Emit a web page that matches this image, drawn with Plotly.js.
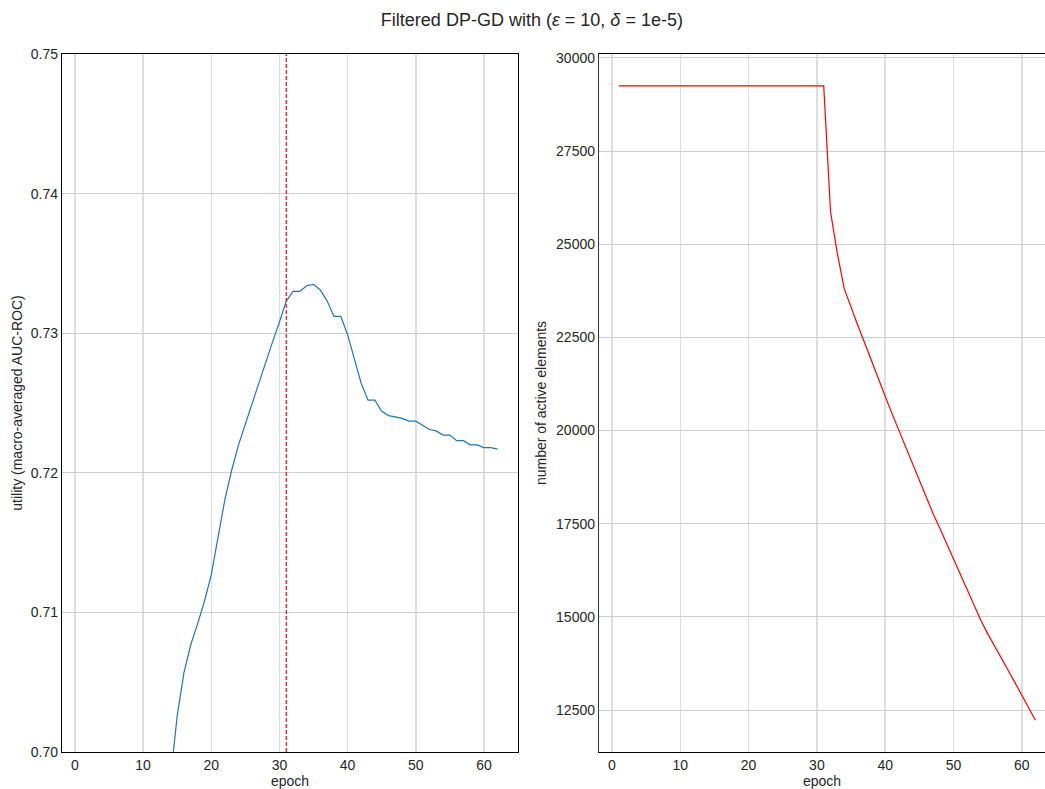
<!DOCTYPE html>
<html>
<head>
<meta charset="utf-8">
<script src="https://cdn.plot.ly/plotly-3.0.1.min.js"></script>
<style>
  html, body { margin: 0; padding: 0; background: #fff; }
  #chart { width: 1045px; height: 789px; }
</style>
</head>
<body>
<div id="chart"></div>
<script>
// ---- data ----
const utilityEpochs = [14, 15, 16, 17, 18, 19, 20, 21, 22, 23, 24, 25, 26, 27, 28, 29, 30, 31, 32, 33, 34, 35, 36, 37, 38,
  39, 40, 41, 42, 43, 44, 45, 46, 47, 48, 49, 50, 51, 52, 53, 54, 55, 56, 57, 58, 59, 60, 61, 62];
const utilityValues = [0.6980, 0.7026, 0.7057, 0.7077, 0.7092, 0.7108, 0.7127, 0.7154, 0.7181, 0.7202, 0.7220, 0.7235,
  0.7250, 0.7265, 0.7280, 0.7294, 0.7308, 0.7323, 0.7330, 0.7330, 0.7334, 0.7335, 0.7331, 0.7323, 0.7312,
  0.7312, 0.7299, 0.7281, 0.7264, 0.7252, 0.7252, 0.7244, 0.7241, 0.7240, 0.7239, 0.7237, 0.7237, 0.7234,
  0.7231, 0.7230, 0.7227, 0.7227, 0.7223, 0.7223, 0.7220, 0.7220, 0.7218, 0.7218, 0.7217];

const activeEpochs = [1, 2, 3, 4, 5, 6, 7, 8, 9, 10, 11, 12, 13, 14, 15, 16, 17, 18, 19, 20, 21, 22, 23, 24, 25, 26, 27,
  28, 29, 30, 31, 32, 33, 34, 35, 36, 37, 38, 39, 40, 41, 42, 43, 44, 45, 46, 47, 48, 49, 50, 51, 52, 53, 54,
  55, 56, 57, 58, 59, 60, 61, 62];
const activeValues = [29250, 29250, 29250, 29250, 29250, 29250, 29250, 29250, 29250, 29250, 29250, 29250, 29250, 29250,
  29250, 29250, 29250, 29250, 29250, 29250, 29250, 29250, 29250, 29250, 29250, 29250, 29250, 29250, 29250,
  29250, 29250, 25869, 24749, 23808, 23295, 22821, 22348, 21857, 21393, 20919, 20455, 20009, 19562, 19098,
  18669, 18222, 17776, 17380, 16964, 16534, 16114, 15694, 15310, 14907, 14550, 14210, 13906, 13566, 13236,
  12896, 12556, 12225];

const bestEpoch = 31;

const leftYTicks = [0.70, 0.71, 0.72, 0.73, 0.74, 0.75];
const rightYTicks = [12500, 15000, 17500, 20000, 22500, 25000, 27500, 30000];
const xTicks = [0, 10, 20, 30, 40, 50, 60];

const titleText = 'Filtered DP-GD with (<i>ε</i> = 10, <i>δ</i> = 1e-5)';
const leftYTitle = 'utility (macro-averaged AUC-ROC)';
const rightYTitle = 'number of active elements';
const xTitle = 'epoch';

// ---- chart ----
const font = 'Liberation Sans, Arial, sans-serif';
const tickFont = {family: font, size: 14, color: '#262626'};
const axTitleFont = {family: font, size: 14, color: '#262626'};

const xCommon = {
  tickmode: 'array', tickvals: xTicks,
  showgrid: true, gridcolor: '#dedede', gridwidth: 1.5,
  zeroline: false, ticks: '', tickfont: tickFont,
  showline: true, linecolor: '#000', linewidth: 1.2, mirror: true,
  title: {text: xTitle, font: axTitleFont, standoff: 6}
};

const traces = [
  {x: utilityEpochs, y: utilityValues, xaxis: 'x', yaxis: 'y', type: 'scatter', mode: 'lines',
   line: {color: '#1f77b4', width: 1.2}, hoverinfo: 'x+y'},
  {x: activeEpochs, y: activeValues, xaxis: 'x2', yaxis: 'y2', type: 'scatter', mode: 'lines',
   line: {color: '#ff0000', width: 1.2}, hoverinfo: 'x+y'}
];

const layout = {
  width: 1045, height: 789,
  paper_bgcolor: '#fff', plot_bgcolor: '#fff',
  showlegend: false,
  margin: {l: 62, r: 0, t: 54, b: 37},
  title: {text: titleText, font: {family: font, size: 18, color: '#262626'},
          x: 0.509, xref: 'container', xanchor: 'center', y: 0.975, yref: 'container', yanchor: 'middle'},
  xaxis: Object.assign({}, xCommon, {domain: [0, 0.4639], range: [-1.9, 65.0], anchor: 'y'}),
  yaxis: {domain: [0, 1], range: [0.70, 0.75], anchor: 'x',
    tickmode: 'array', tickvals: leftYTicks, tickformat: '.2f',
    showgrid: true, gridcolor: '#cfcfcf', gridwidth: 1,
    zeroline: false, ticks: '', tickfont: tickFont,
    showline: true, linecolor: '#000', linewidth: 1.2, mirror: true,
    title: {text: leftYTitle, font: axTitleFont, standoff: 4}},
  xaxis2: Object.assign({}, xCommon, {domain: [0.5463, 1], range: [-1.9, 63.4], anchor: 'y2'}),
  yaxis2: {domain: [0, 1], range: [11373, 30107], anchor: 'x2',
    tickmode: 'array', tickvals: rightYTicks, tickformat: 'd',
    showgrid: true, gridcolor: '#cfcfcf', gridwidth: 1,
    zeroline: false, ticks: '', tickfont: tickFont,
    showline: true, linecolor: '#333', linewidth: 1.2, mirror: false,
    title: {text: rightYTitle, font: axTitleFont, standoff: 6}},
  shapes: [
    {type: 'line', xref: 'x', yref: 'y domain', x0: bestEpoch, x1: bestEpoch, y0: 0, y1: 1,
     line: {color: '#ff0000', width: 1.2, dash: '4px,2px'}}
  ]
};

Plotly.newPlot('chart', traces, layout, {displayModeBar: false, staticPlot: true});
</script>
</body>
</html>
